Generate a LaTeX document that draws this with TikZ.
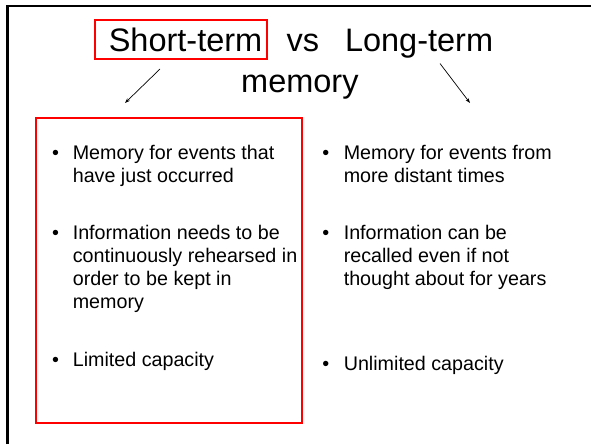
\documentclass[tikz,border=0pt]{standalone}
\usepackage{fontspec}
\setmainfont{Liberation Sans}
\usetikzlibrary{arrows.meta}
\tikzset{
  titletext/.style={anchor=base west, inner sep=0pt, font=\fontsize{32.5}{38}\selectfont},
  bodytext/.style={anchor=base west, inner sep=0pt, font=\fontsize{19.7}{23.2}\selectfont},
  bulletmark/.style={anchor=base, inner sep=0pt, font=\fontsize{19.7}{23.2}\selectfont},
  redbox/.style={draw=red, line width=2pt},
  pointer/.style={draw=black, line width=0.7pt, -{Stealth[length=5pt,width=3.5pt]}},
  frameline/.style={draw=black, line width=2.2pt}
}
\newcommand{\bodylines}[1]{\parbox[t]{9cm}{\raggedright #1}}
\begin{document}
\begin{tikzpicture}[x=1pt,y=-1pt]
\useasboundingbox (0,0) rectangle (591,444);
% frame (top and left only)
\coordinate (ftl) at (7.5,6.3);
\coordinate (ftr) at (591,6.3);
\coordinate (fbl) at (7.5,444);
\draw[frameline] (fbl) -- (ftl) -- (ftr);
% title
\node[titletext] (short) at (108.6,52) {Short-term};
\node[titletext] (vs) at (286.5,52) {vs};
\node[titletext] (long) at (344.8,52) {Long-term};
\node[titletext] (mem) at (241,92) {memory};
\node[redbox, minimum width=172pt, minimum height=39.5pt, inner sep=0pt] (stbox) at (181,39.75) {};
% arrows
\coordinate (las) at (160,69);
\coordinate (lae) at (125,103);
\coordinate (ras) at (440,63.5);
\coordinate (rae) at (470,103);
\draw[pointer] (las) -- (lae);
\draw[pointer] (ras) -- (rae);
% big red box
\node[redbox, minimum width=266pt, minimum height=305pt, inner sep=0pt] (bigbox) at (169,270.5) {};
% left column
\node[bulletmark] (lb1) at (55.5,159.3) {•};
\node[bodytext] (lt1) at (72.6,159.3) {\bodylines{Memory for events that\\have just occurred}};
\node[bulletmark] (lb2) at (55.5,239) {•};
\node[bodytext] (lt2) at (72.6,239) {\bodylines{Information needs to be\\continuously rehearsed in\\order to be kept in\\memory}};
\node[bulletmark] (lb3) at (55.5,366.7) {•};
\node[bodytext] (lt3) at (72.6,366.7) {\bodylines{Limited capacity}};
% right column
\node[bulletmark] (rb1) at (325.7,159.3) {•};
\node[bodytext] (rt1) at (343.6,159.3) {\bodylines{Memory for events from\\more distant times}};
\node[bulletmark] (rb2) at (325.7,239) {•};
\node[bodytext] (rt2) at (343.6,239) {\bodylines{Information can be\\recalled even if not\\thought about for years}};
\node[bulletmark] (rb3) at (325.7,370) {•};
\node[bodytext] (rt3) at (343.6,370) {\bodylines{Unlimited capacity}};
\end{tikzpicture}
\end{document}
